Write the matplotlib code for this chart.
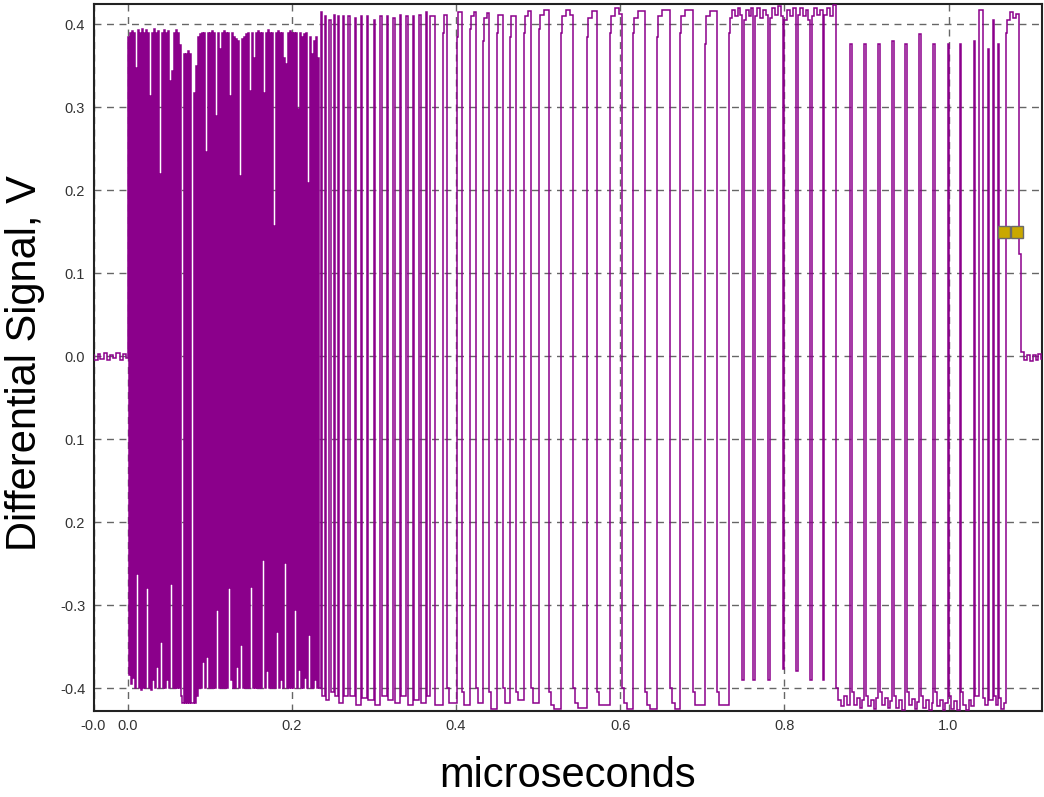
import matplotlib
matplotlib.use("Agg")
import matplotlib.pyplot as plt

plt.rcParams['path.simplify'] = False
plt.rcParams['font.family'] = ['Liberation Sans', 'DejaVu Sans']

# ---------------- data (time in microseconds, signal in volts) ----------------
# idle baseline before the burst
lead_t = [-0.045, -0.0405, -0.0365, -0.033, -0.029, -0.025, -0.021, -0.0175,
          -0.0135, -0.0095, -0.0055, -0.002]
lead_v = [0.002, -0.004, 0.003, -0.003, 0.004, -0.005, 0.002, -0.002,
          0.004, -0.004, 0.003, -0.002]

# dense toggling section: one level per sample
dense_t0 = 0.0
dense_dt = 0.00122
dense_v = [
    0.385, -0.384, 0.39, -0.395, 0.392, -0.388, 0.39, -0.40, 0.348, -0.263,
    0.393, -0.40, 0.39, -0.402, 0.394, -0.40, 0.39, -0.40, 0.393, -0.28,
    0.39, -0.40, 0.314, -0.402, 0.39, -0.39, 0.394, -0.40, 0.39, -0.375,
    0.392, -0.40, 0.22, -0.344, 0.39, -0.40, 0.393, -0.40, 0.39, -0.39,
    0.392, -0.40, 0.332, -0.275, 0.344, -0.40, 0.39, -0.40, 0.393, -0.40,
    0.39, -0.40, 0.375, -0.41, -0.418, -0.418, 0.365, -0.418, 0.365, -0.418,
    0.368, -0.418, 0.365, -0.418, -0.418, -0.418, 0.318, -0.418, 0.35, -0.41,
    0.385, -0.40, 0.388, -0.40, 0.39, -0.369, 0.39, -0.40, 0.246, -0.3625,
    0.39, -0.40, 0.39, -0.40, 0.392, -0.40, 0.39, -0.40, 0.29, -0.306,
    0.39, -0.40, 0.371, -0.40, 0.39, -0.40, 0.392, -0.40, 0.39, -0.40,
    0.39, -0.279, 0.314, -0.39, 0.39, -0.40, 0.385, -0.40, 0.382, -0.375,
    0.38, -0.40, 0.2175, -0.348, 0.382, -0.40, 0.385, -0.40, 0.388, -0.40,
    0.39, -0.40, 0.32, -0.278, 0.39, -0.40, 0.36, -0.40, 0.39, -0.40,
    0.392, -0.40, 0.39, -0.40, 0.39, -0.246, 0.318, -0.40, 0.39, -0.38,
    0.393, -0.40, 0.39, -0.40, 0.39, -0.40, 0.157, -0.40, 0.39, -0.332,
    0.392, -0.40, 0.39, -0.39, 0.39, -0.40, 0.36, -0.249, 0.352, -0.40,
    0.39, -0.40, 0.392, -0.40, 0.39, -0.40, 0.39, -0.306, 0.39, -0.40,
    0.298, -0.378, 0.39, -0.40, 0.385, -0.40, 0.388, -0.388, 0.39, -0.40,
    0.209, -0.336, 0.385, -0.40, 0.365, -0.40, 0.38, -0.39, 0.385, -0.40,
    0.36, -0.40,
]

# transition instants and the level after each one, section by section
trans_t = [0.23537, 0.23697, 0.24024, 0.24184, 0.24573, 0.24733, 0.25122, 0.25282,
           0.25610, 0.25770, 0.26220, 0.26380, 0.26890, 0.27050, 0.27683, 0.27843,
           0.28415, 0.28575, 0.29146, 0.29306, 0.30000, 0.30160, 0.30793, 0.30953,
           0.31585, 0.31745, 0.32378, 0.32538, 0.33171, 0.33331, 0.33963, 0.34123,
           0.34756, 0.34916, 0.35549, 0.35709, 0.36341, 0.36501, 0.36890, 0.37439]
trans_v = [0.415, -0.41, 0.41, -0.415, 0.405, -0.405, 0.412, -0.41,
           0.41, -0.418, 0.41, -0.41, 0.41, -0.41, 0.408, -0.42,
           0.41, -0.412, 0.41, -0.415, 0.405, -0.42, 0.41, -0.41,
           0.41, -0.415, 0.408, -0.418, 0.412, -0.41, 0.41, -0.42,
           0.41, -0.415, 0.412, -0.418, 0.415, -0.41, 0.41, -0.42]

sparse_t = [0.38415, 0.3854, 0.38902, 0.3915,
            0.40122, 0.4024, 0.40732, 0.4098,
            0.41707, 0.4183, 0.4220, 0.42439, 0.4268,
            0.43293, 0.4341, 0.4378, 0.44024, 0.4427,
            0.45000, 0.4512, 0.45732, 0.4598,
            0.46585, 0.4671, 0.47317, 0.4756,
            0.48293, 0.4841, 0.4878, 0.49146, 0.4939,
            0.50122, 0.5024, 0.5073, 0.51341, 0.5159, 0.5195,
            0.52805, 0.5293, 0.5341, 0.5390, 0.54268, 0.5451, 0.5488,
            0.55976, 0.5610, 0.5659, 0.57195, 0.5744,
            0.58780, 0.5890, 0.5939, 0.5988, 0.60244, 0.6049, 0.6085,
            0.61585, 0.6171, 0.6220, 0.63049, 0.6329, 0.6366,
            0.64512, 0.6463, 0.6512, 0.66098, 0.6634, 0.6671,
            0.67317, 0.6744, 0.6793, 0.68902, 0.6915,
            0.70366, 0.7049, 0.7098, 0.71829, 0.7207]
sparse_v = [0.39, 0.412, -0.40, -0.418,
            0.385, 0.415, -0.405, -0.42,
            0.395, 0.41, 0.415, -0.40, -0.418,
            0.38, 0.408, 0.414, -0.405, -0.425,
            0.39, 0.412, -0.40, -0.418,
            0.385, 0.41, -0.405, -0.415,
            0.39, 0.41, 0.416, -0.40, -0.418,
            0.395, 0.412, 0.418, -0.405, -0.42, -0.425,
            0.39, 0.41, 0.418, 0.412, -0.40, -0.418, -0.424,
            0.385, 0.408, 0.416, -0.405, -0.42,
            0.39, 0.41, 0.42, 0.413, -0.40, -0.418, -0.425,
            0.39, 0.408, 0.416, -0.405, -0.42, -0.425,
            0.385, 0.41, 0.418, -0.40, -0.418, -0.425,
            0.39, 0.41, 0.418, -0.405, -0.42,
            0.377, 0.41, 0.416, -0.405, -0.42]

plateau_t = [0.73293, 0.7341, 0.7366, 0.7402, 0.7439, 0.7463,
             0.74878, 0.75058, 0.7537, 0.7573, 0.7598,
             0.76220, 0.76400, 0.7671, 0.7707, 0.7744, 0.7780,
             0.78049, 0.78229, 0.7854, 0.7890, 0.7927, 0.7963,
             0.79817, 0.79997, 0.8037, 0.8073, 0.8110,
             0.81463, 0.81643, 0.8195, 0.8232, 0.8268, 0.8293,
             0.83171, 0.83351, 0.8366, 0.8402, 0.8439,
             0.84695, 0.84875, 0.8524, 0.8561, 0.8598]
plateau_v = [0.39, 0.408, 0.418, 0.41, 0.42, 0.412,
             -0.39, 0.405, 0.418, 0.41, 0.42,
             -0.39, 0.41, 0.42, 0.408, 0.418, 0.412,
             -0.39, 0.408, 0.42, 0.412, 0.422, 0.41,
             -0.377, 0.405, 0.418, 0.41, 0.42,
             -0.379, 0.412, 0.42, 0.41, 0.418, 0.405,
             -0.39, 0.41, 0.42, 0.412, 0.418,
             -0.39, 0.412, 0.42, 0.41, 0.424]

floor_t = [0.86280, 0.8652, 0.8689, 0.8726, 0.8762,
           0.88049, 0.8823, 0.8848, 0.8884, 0.8921, 0.8951,
           0.89756, 0.8994, 0.9018, 0.9055, 0.9091, 0.9122,
           0.91463, 0.9165, 0.9189, 0.9226, 0.9262, 0.9293,
           0.93171, 0.9335, 0.9360, 0.9396, 0.9433,
           0.94756, 0.9494, 0.9518, 0.9555, 0.9591, 0.9616,
           0.96402, 0.9665, 0.9689, 0.9726, 0.9762, 0.9793,
           0.98171, 0.9835, 0.9860, 0.9896, 0.9933, 0.9963,
           0.99878, 1.0006, 1.0030, 1.0067, 1.0104,
           1.01341, 1.0152, 1.0177, 1.0213, 1.0250, 1.0280,
           1.03049, 1.0323,
           1.03720, 1.04207, 1.0445,
           1.04756, 1.0494,
           1.05366, 1.05549, 1.0573,
           1.05976, 1.0616, 1.0640, 1.0677]
floor_v = [-0.40, -0.415, -0.422, -0.41, -0.42,
           0.377, -0.405, -0.42, -0.412, -0.424, -0.415,
           0.376, -0.41, -0.422, -0.415, -0.425, -0.412,
           0.376, -0.405, -0.42, -0.412, -0.424, -0.416,
           0.38, -0.41, -0.424, -0.415, -0.426,
           0.376, -0.405, -0.42, -0.413, -0.425, -0.417,
           0.388, -0.41, -0.424, -0.415, -0.426, -0.418,
           0.376, -0.405, -0.422, -0.414, -0.427, -0.418,
           0.377, -0.41, -0.425, -0.416, -0.427,
           0.377, -0.405, -0.42, -0.426, -0.415, -0.422,
           0.38, -0.41,
           0.417, -0.412, -0.42,
           0.37, -0.415,
           0.405, -0.41, -0.42,
           0.377, -0.412, -0.425, -0.418]

tail_t = [1.06951, 1.0713, 1.0750, 1.0786, 1.0823, 1.08537, 1.08841,
          1.0920, 1.0955, 1.0990, 1.1025, 1.1060, 1.1095, 1.1130]
tail_v = [0.39, 0.405, 0.415, 0.408, 0.413, 0.123, 0.005,
          -0.004, 0.002, -0.006, 0.001, -0.004, 0.003, -0.003]
t_end = 1.125

# two square markers
marker_t = [1.068, 1.0838]
marker_v = [0.1493, 0.1493]

# axes
x_ticks = [-0.0414, 0.0, 0.2, 0.4, 0.6, 0.8, 1.0]
x_labels = ["-0.0", "0.0", "0.2", "0.4", "0.6", "0.8", "1.0"]
y_ticks = [0.4, 0.3, 0.2, 0.1, 0.0, -0.1, -0.2, -0.3, -0.4]
y_labels = ["0.4", "0.3", "0.2", "0.1", "0.0", "0.1", "0.2", "-0.3", "-0.4"]
x_lim = (-0.0414, 1.1139)
y_lim = (-0.4277, 0.4253)

# ---------------- assemble trace ----------------
dense_t = [dense_t0 + i * dense_dt for i in range(len(dense_v))]
trace_t = lead_t + dense_t + trans_t + sparse_t + plateau_t + floor_t + tail_t + [t_end]
trace_v = lead_v + dense_v + trans_v + sparse_v + plateau_v + floor_v + tail_v + [tail_v[-1]]

fig = plt.figure(figsize=(10.44, 7.97), dpi=100)
ax = fig.add_axes([0.0896, 0.1079, 0.9085, 0.8877])

ax.plot(trace_t, trace_v, drawstyle='steps-post', color='#8B008B', lw=1.1,
        solid_joinstyle='miter', zorder=3)
ax.plot(marker_t, marker_v, linestyle='none', marker='s', ms=9.2,
        mfc='#c9a800', mec='#6a6a6a', mew=1.0, zorder=4)

ax.set_xlim(*x_lim)
ax.set_ylim(*y_lim)
ax.set_xticks(x_ticks)
ax.set_xticklabels(x_labels)
ax.set_yticks(y_ticks)
ax.set_yticklabels(y_labels)
ax.tick_params(length=0, labelsize=10.5, labelcolor='#333333', pad=6)
ax.grid(True, color='#666666', linestyle=(0, (5, 4)), lw=1.0)
ax.set_axisbelow(True)
for s in ax.spines.values():
    s.set_color('#222222')
    s.set_linewidth(1.5)

fig.text(0.5435, 0.013, "microseconds", fontsize=30, ha='center',
         va='baseline', color='black')
fig.text(0.0244, 0.5445, "Differential Signal, V", fontsize=30, rotation=90,
         ha='center', va='center', color='black')

fig.savefig("out.png", dpi=100)
